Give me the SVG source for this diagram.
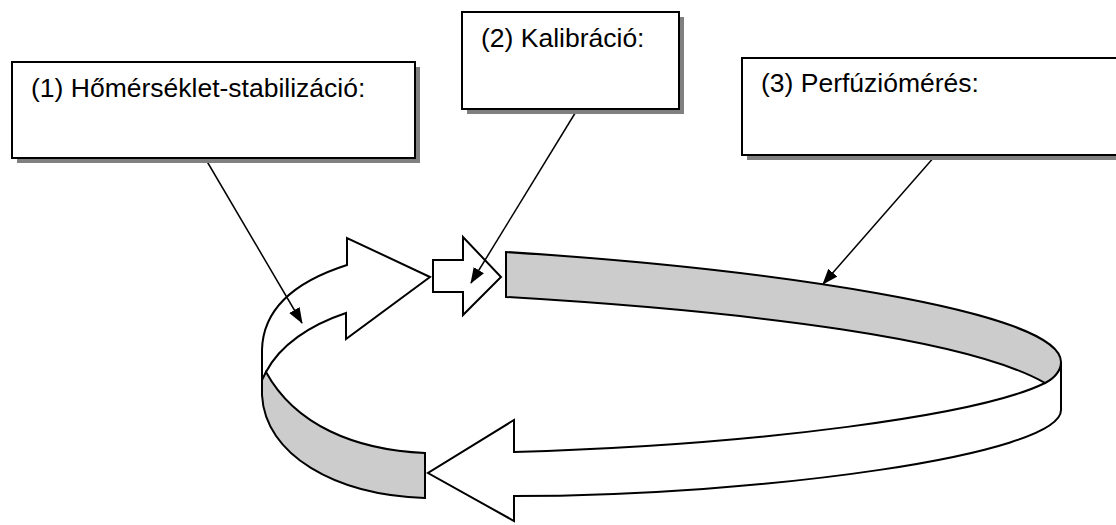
<svg xmlns="http://www.w3.org/2000/svg" width="1116" height="525" viewBox="0 0 1116 525">
<defs>
<style>
.shadow{fill:#808080;stroke:none}
.box{fill:#ffffff;stroke:#000000;stroke-width:2}
.label{font-family:"Liberation Sans",Arial,sans-serif;font-size:26.5px;fill:#000000}
.shape{stroke:#000000;stroke-width:2;stroke-linejoin:miter}
.white{fill:#ffffff}
.grey{fill:#cccccc}
.conn{stroke:#000000;stroke-width:1.5;fill:none}
</style>
<marker id="ah" viewBox="0 0 16 12" refX="15" refY="6" markerWidth="16" markerHeight="12" markerUnits="userSpaceOnUse" orient="auto">
<path d="M0,0 L16,6 L0,12 Z" fill="#000000"/>
</marker>
</defs>
<rect width="1116" height="525" fill="#ffffff"/>

<g id="loop">
<path id="lower-band" class="shape white" d="M1061,362 L1061,410 C1061,455 760,496 514,496 L514,521 L428,473 L514,420 L514,452 C760,445 980,415 1045,383 C1052,379 1061,372 1061,362 Z"/>
<path id="upper-band" class="shape grey" d="M506,252 C760,268 1061,310 1061,362 C1061,370 1055,378 1045,383 C970,340 760,312 506,297 Z"/>
<path id="curved-arrow" class="shape white" d="M262,395 L262,350 C263,305 300,280 347,265 L347,238 L430,277 L346,339 L346,313 C310,325 280,345 266,372 Z"/>
<path id="left-band" class="shape grey" d="M266,372 C295,425 355,450 425,453 L425,498 C335,495 265,455 262,395 L262,380 Z"/>
<path id="small-arrow" class="shape white" d="M433,260 L463,260 L463,237 L501,277 L463,315 L463,292 L433,292 Z"/>
</g>

<g id="connectors">
<line class="conn" x1="205" y1="158" x2="302" y2="323" marker-end="url(#ah)"/>
<line class="conn" x1="577" y1="110" x2="471" y2="283" marker-end="url(#ah)"/>
<line class="conn" x1="935" y1="156" x2="823" y2="284" marker-end="url(#ah)"/>
</g>

<g id="box1">
<rect class="shadow" x="17" y="67" width="403" height="96"/>
<rect class="box" x="12" y="62" width="403" height="96"/>
<text class="label" x="31" y="97">(1) Hőmérséklet-stabilizáció:</text>
</g>

<g id="box2">
<rect class="shadow" x="467" y="17" width="217" height="97"/>
<rect class="box" x="462" y="12" width="217" height="97"/>
<text class="label" x="481" y="47">(2) Kalibráció:</text>
</g>

<g id="box3">
<rect class="shadow" x="747" y="63" width="380" height="97"/>
<rect class="box" x="742" y="58" width="380" height="97"/>
<text class="label" x="761" y="92">(3) Perfúziómérés:</text>
</g>
</svg>
